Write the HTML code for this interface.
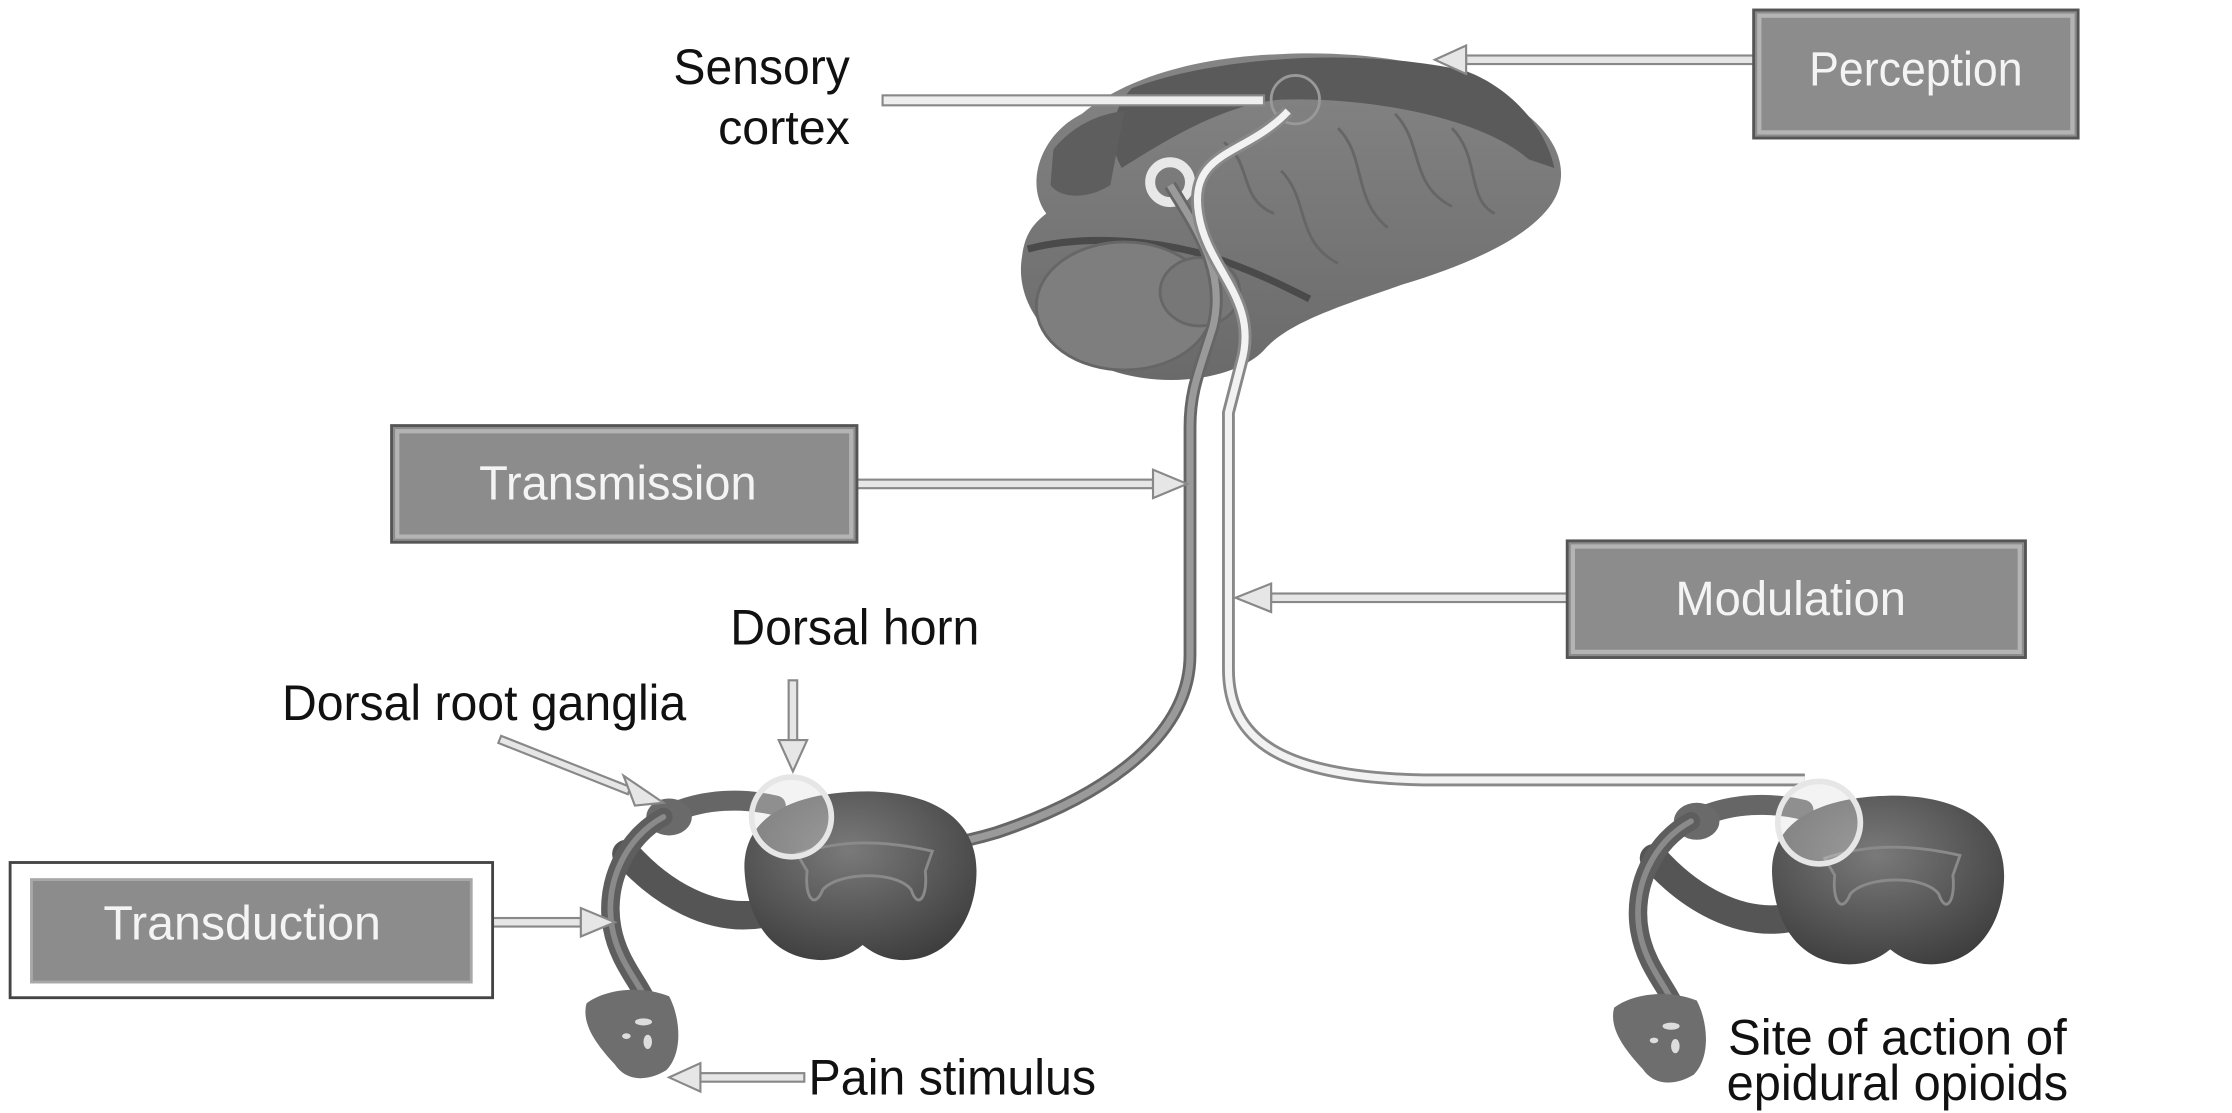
<!DOCTYPE html>
<html><head><meta charset="utf-8"><style>
html,body{margin:0;padding:0;background:#fff;}
svg{display:block;}
text{font-family:"Liberation Sans",Arial,sans-serif;}
</style></head><body>
<svg width="2232" height="1113" viewBox="0 0 1568 782" xmlns="http://www.w3.org/2000/svg">
<defs>
<radialGradient id="cordg" cx="0.45" cy="0.35" r="0.7">
<stop offset="0" stop-color="#7a7a7a"/><stop offset="1" stop-color="#3e3e3e"/></radialGradient>
<linearGradient id="braing" x1="0" y1="0" x2="0" y2="1">
<stop offset="0" stop-color="#858585"/><stop offset="1" stop-color="#6a6a6a"/></linearGradient>
<g id="cord">
  <path d="M535,642 C500,648 465,628 440,600" fill="none" stroke="#555" stroke-width="20" stroke-linecap="round"/>
  <path d="M545,566 C520,560 495,562 475,570" fill="none" stroke="#666" stroke-width="14" stroke-linecap="round"/>
  <ellipse cx="470" cy="574" rx="16" ry="13" fill="#6a6a6a"/>
  <path d="M466,574 C440,588 424,620 430,652 C436,685 462,700 460,728" fill="none" stroke="#5e5e5e" stroke-width="13" stroke-linecap="round"/>
  <path d="M466,574 C440,588 424,620 430,652 C436,685 462,700 460,728" fill="none" stroke="#8a8a8a" stroke-width="4" stroke-linecap="round"/>
  <path d="M412,705 C425,695 450,692 470,700 C478,715 480,740 468,752 C455,760 440,760 432,748 C420,735 408,720 412,705 Z" fill="#6e6e6e"/>
  <ellipse cx="452" cy="718" rx="6" ry="2.5" fill="#ddd"/>
  <ellipse cx="440" cy="728" rx="3" ry="2" fill="#ddd"/>
  <ellipse cx="455" cy="732" rx="3" ry="5" fill="#ddd"/>
  <path d="M523,612 C521,575 555,556 610,556 C662,557 686,580 686,612 C686,642 670,670 642,674 Q622,677 606,664 Q590,677 570,674 C540,670 525,645 523,612 Z" fill="url(#cordg)"/>
  <path d="M560,600 C590,590 620,590 655,598 L650,612 C652,630 645,640 640,625 C630,612 590,612 578,625 C572,640 565,630 567,612 Z" fill="none" stroke="#8a8a8a" stroke-width="2"/>
</g>
</defs>

<path d="M735,150 C720,130 730,95 760,80 C790,55 840,40 900,38 C960,35 1030,45 1065,75 C1095,95 1103,120 1092,140 C1078,165 1035,185 985,200 C945,214 905,226 888,246 C872,263 830,273 790,263 C740,250 712,215 718,180 C720,165 725,158 735,150 Z" fill="url(#braing)"/>
<path d="M795,62 C860,38 960,34 1030,50 C1062,62 1086,90 1092,118 L1074,112 C1040,82 960,68 900,70 C860,73 820,98 788,118 C778,100 780,78 795,62 Z" fill="#5a5a5a"/>
<path d="M740,105 C752,90 770,80 790,78 L780,130 C765,140 745,140 738,130 Z" fill="#5e5e5e"/>
<path d="M722,175 C760,165 810,168 850,180 C880,190 900,200 920,210" fill="none" stroke="#4a4a4a" stroke-width="5"/>
<ellipse cx="790" cy="215" rx="62" ry="45" fill="#7e7e7e" stroke="#666" stroke-width="2"/>
<ellipse cx="843" cy="205" rx="28" ry="24" fill="#777" stroke="#666" stroke-width="2"/>
<g fill="none" stroke="#666" stroke-width="2">
<path d="M940,90 C960,110 950,140 975,160"/><path d="M980,80 C1000,100 990,130 1020,145"/>
<path d="M1020,90 C1040,110 1030,140 1050,150"/><path d="M900,120 C920,140 910,170 940,185"/>
<path d="M860,100 C880,115 870,140 895,150"/>
</g>
<circle cx="910" cy="70" r="17" fill="none" stroke="#999" stroke-width="2"/>
<circle cx="822" cy="128" r="14" fill="none" stroke="#e8e8e8" stroke-width="7"/>

<path d="M822,130 C840,160 862,190 852,230 C842,262 836,275 836,300 L836,460 C836,525 760,565 700,585 C660,597 620,600 580,598" fill="none" stroke="#666" stroke-width="9"/>
<path d="M822,130 C840,160 862,190 852,230 C842,262 836,275 836,300 L836,460 C836,525 760,565 700,585 C660,597 620,600 580,598" fill="none" stroke="#9a9a9a" stroke-width="5"/>

<use href="#cord"/>
<use href="#cord" transform="translate(722,3)"/>

<path d="M905,78 C875,110 835,105 842,150 C848,190 885,210 872,255 L863,290 L863,470 C863,520 900,546 1000,548 L1268,548" fill="none" stroke="#888" stroke-width="9"/>
<path d="M905,78 C875,110 835,105 842,150 C848,190 885,210 872,255 L863,290 L863,470 C863,520 900,546 1000,548 L1268,548" fill="none" stroke="#f2f2f2" stroke-width="5"/>

<circle cx="556" cy="574" r="28" fill="rgba(220,220,220,0.35)" stroke="#e6e6e6" stroke-width="4"/>
<circle cx="1278" cy="578" r="29" fill="rgba(220,220,220,0.35)" stroke="#e6e6e6" stroke-width="4"/>

<g stroke="#888" stroke-width="1.5" fill="#e6e6e6">
  <rect x="620" y="67" width="268" height="7" fill="#eee"/>
  <rect x="1030" y="39" width="202" height="6"/><polygon points="1030,32 1030,52 1008,42"/>
  <rect x="602" y="337" width="208" height="6"/><polygon points="810,330 810,350 834,340"/>
  <rect x="893" y="417" width="208" height="6"/><polygon points="893,410 893,430 868,420"/>
  <rect x="554" y="478" width="6" height="42"/><polygon points="547,520 567,520 557,542"/>
  <polygon points="352,517 443,553 441,558 350,522"/><polygon points="438,545 446,566 466,564"/>
  <rect x="346" y="645" width="62" height="6"/><polygon points="408,638 408,658 432,648"/>
  <rect x="492" y="754" width="73" height="6"/><polygon points="492,747 492,767 470,757"/>
</g>

<g>
  <rect x="1232" y="7" width="228" height="90" fill="#8c8c8c" stroke="#555" stroke-width="2"/>
  <rect x="1236" y="11" width="220" height="82" fill="none" stroke="#b4b4b4" stroke-width="3"/>
  <rect x="275" y="299" width="327" height="82" fill="#8c8c8c" stroke="#555" stroke-width="2"/>
  <rect x="279" y="303" width="319" height="74" fill="none" stroke="#b4b4b4" stroke-width="3"/>
  <rect x="1101" y="380" width="322" height="82" fill="#8c8c8c" stroke="#555" stroke-width="2"/>
  <rect x="1105" y="384" width="314" height="74" fill="none" stroke="#b4b4b4" stroke-width="3"/>
  <rect x="7" y="606" width="339" height="95" fill="#fff" stroke="#444" stroke-width="2"/>
  <rect x="22" y="618" width="309" height="72" fill="#8c8c8c" stroke="#a8a8a8" stroke-width="2"/>
</g>
<g fill="#f4f4f4" font-size="34" text-anchor="middle">
  <text x="1346" y="60" textLength="150" lengthAdjust="spacingAndGlyphs">Perception</text>
  <text x="434" y="351" textLength="195" lengthAdjust="spacingAndGlyphs">Transmission</text>
  <text x="1258" y="432" textLength="162" lengthAdjust="spacingAndGlyphs">Modulation</text>
  <text x="170" y="660" textLength="195" lengthAdjust="spacingAndGlyphs">Transduction</text>
</g>
<g fill="#111" font-size="35">
  <text x="473" y="59" textLength="124" lengthAdjust="spacingAndGlyphs">Sensory</text>
  <text x="597" y="101" text-anchor="end" font-size="34">cortex</text>
  <text x="513" y="453" textLength="175" lengthAdjust="spacingAndGlyphs">Dorsal horn</text>
  <text x="198" y="506" textLength="284" lengthAdjust="spacingAndGlyphs">Dorsal root ganglia</text>
  <text x="568" y="769" textLength="202" lengthAdjust="spacingAndGlyphs">Pain stimulus</text>
  <text x="1214" y="741" textLength="238" lengthAdjust="spacingAndGlyphs">Site of action of</text>
  <text x="1213" y="773" textLength="240" lengthAdjust="spacingAndGlyphs">epidural opioids</text>
</g>
</svg>
</body></html>
